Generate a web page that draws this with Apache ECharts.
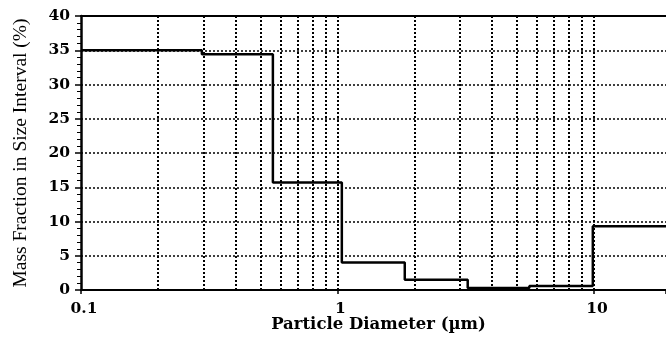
<!DOCTYPE html>
<html>
<head>
<meta charset="utf-8">
<script src="https://cdn.jsdelivr.net/npm/echarts@6/dist/echarts.min.js"></script>
<style>html,body{margin:0;padding:0;background:#fff;}#c{width:666px;height:341px;}</style>
</head>
<body>
<div id="c"></div>
<script>
// Bin lower edges (µm) and mass fraction (%) in each size interval
const binEdges = [0.1, 0.296, 0.56, 1.04, 1.83, 3.22, 5.6, 9.9];
const massFraction = [35.0, 34.4, 15.7, 4.0, 1.5, 0.3, 0.6, 9.3];
const xMax = 19.1;
const xTickLabels = ['0.1', '1', '10'];
const yTicks = [0, 5, 10, 15, 20, 25, 30, 35, 40];
const gridXValues = [0.2,0.3,0.4,0.5,0.6,0.7,0.8,0.9,1,2,3,4,5,6,7,8,9,10];

const stepData = binEdges.map((e, i) => [e, massFraction[i]]);
stepData.push([xMax, massFraction[massFraction.length - 1]]);

const serif = 'Liberation Serif';
const wide = 'DejaVu Serif';
const chart = echarts.init(document.getElementById('c'), null, {renderer: 'canvas'});
chart.setOption({
  animation: false,
  backgroundColor: '#fff',
  grid: {left: 81, right: 0, top: 16, bottom: 51, containLabel: false, outerBoundsMode: 'none'},
  xAxis: [{
    type: 'log', logBase: 10, min: 0.1, max: xMax,
    name: 'Particle Diameter (\u00b5m)', nameLocation: 'middle', nameGap: 26,
    nameMoveOverlap: false,
    nameTextStyle: {fontFamily: wide, fontWeight: 'bold', fontSize: 16.5, color: '#000', padding: [0, 0, 0, 10]},
    axisLine: {show: true, lineStyle: {color: '#000', width: 2}},
    axisTick: {show: true, length: 4, lineStyle: {color: '#000', width: 1.5}},
    axisLabel: {fontFamily: wide, fontWeight: 'bold', fontSize: 15.5, color: '#000', margin: 11,
      padding: [0, 0, 0, 6],
      formatter: v => { const s = String(+v.toPrecision(3)); return xTickLabels.includes(s) ? s : ''; }},
    splitLine: {show: false}
  }, {
    type: 'log', logBase: 10, min: 0.1, max: xMax, position: 'top',
    axisLine: {show: true, lineStyle: {color: '#000', width: 2}},
    axisTick: {show: false}, axisLabel: {show: false}, splitLine: {show: false}
  }],
  yAxis: {
    type: 'value', min: 0, max: 40, interval: 5,
    name: 'Mass Fraction in Size Interval (%)', nameLocation: 'middle', nameGap: 50,
    nameMoveOverlap: false,
    nameTextStyle: {fontFamily: serif, fontSize: 19.5, color: '#000'},
    axisLine: {show: true, lineStyle: {color: '#000', width: 2.5}},
    axisTick: {show: true, length: 6, lineStyle: {color: '#000', width: 1.5}},
    minorTick: {show: true, splitNumber: 5, length: 4, lineStyle: {color: '#000', width: 1}},
    axisLabel: {fontFamily: wide, fontWeight: 'bold', fontSize: 15.5, color: '#000', margin: 11,
      formatter: v => yTicks.includes(v) ? String(v) : ''},
    splitLine: {show: true, lineStyle: {color: '#000', type: [2, 2], width: 1.5}}
  },
  series: [{
    type: 'line', step: 'end', data: stepData, symbol: 'none',
    lineStyle: {color: '#000', width: 2.5},
    z: 5,
    markLine: {
      silent: true, symbol: 'none', label: {show: false},
      lineStyle: {color: '#000', type: [2, 2], width: 2},
      data: gridXValues.map(v => ({xAxis: v}))
    }
  }]
});
</script>
</body>
</html>
